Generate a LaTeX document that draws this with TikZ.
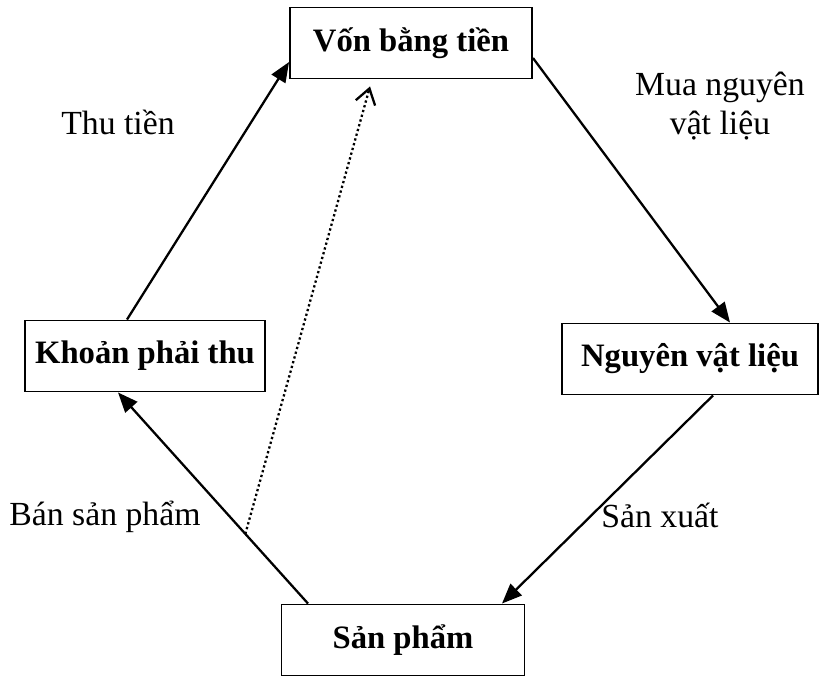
\documentclass[tikz,border=0pt]{standalone}
\usepackage{fontspec}
\setmainfont{Liberation Serif}
\usetikzlibrary{arrows.meta}

\tikzset{
  stagebox/.style={draw, line width=1.1pt, minimum height=1.42cm, inner sep=0pt, font=\fontsize{18.6}{21}\selectfont\bfseries},
  flow/.style={line width=1.3pt, -{Triangle[length=0.4cm,width=0.32cm]}},
  flowlabel/.style={align=center}
}

\begin{document}
\begin{tikzpicture}[x=0.02cm, y=-0.02cm, font=\fontsize{19.2}{22}\selectfont]
  \useasboundingbox (0,0) rectangle (831,679);
  % boxes
  \node[stagebox, minimum width=4.84cm] (von) at (411,43) {Vốn bằng tiền};
  \node[stagebox, minimum width=4.8cm] (khoan) at (145,356) {Khoản phải thu};
  \node[stagebox, minimum width=5.12cm] (nguyen) at (690,359) {Nguyên vật liệu};
  \node[stagebox, minimum width=4.86cm] (sanpham) at (403,640) {Sản phẩm};

  % flows
  \draw[flow] ([xshift=-0.36cm]khoan.north) -- ([yshift=-0.38cm]von.west);
  \draw[flow] ([yshift=-0.3cm]von.east) -- ([xshift=0.8cm]nguyen.north);
  \draw[flow] ([xshift=0.46cm]nguyen.south) -- ([xshift=1.98cm]sanpham.north);
  \draw[flow] ([xshift=-1.9cm]sanpham.north) -- coordinate[pos=0.33] (sold) ([xshift=-0.54cm]khoan.south);
  % dotted
  \draw[line width=1.3pt, dash pattern=on 1.3pt off 1.5pt, -{Straight Barb[length=0.3cm,width=0.4cm]}]
    (sold) -- ([xshift=-0.82cm,yshift=-0.14cm]von.south);

  % node
  \node[flowlabel] (thu) at (118,122) {Thu tiền};
  \node[flowlabel] (mua) at (720,106) {Mua nguyên\\vật liệu};
  \node[flowlabel] (ban) at (105,517) {Bán sản phẩm};
  \node[flowlabel] (sx) at (660,515) {Sản xuất};
\end{tikzpicture}
\end{document}
